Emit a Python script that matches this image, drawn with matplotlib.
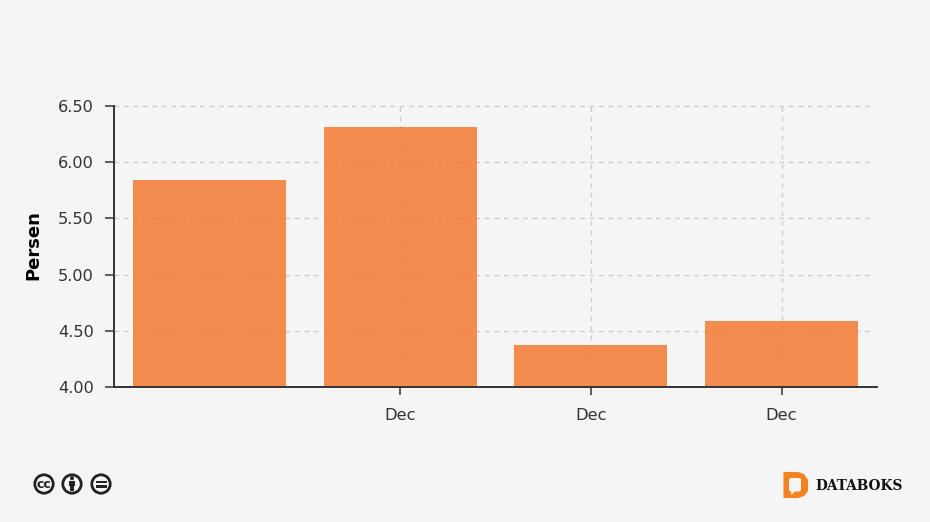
import matplotlib
matplotlib.use("Agg")
import matplotlib.pyplot as plt
from matplotlib.patches import Circle, Polygon, Rectangle, FancyBboxPatch

BG = "#f5f5f5"
DARK = "#333333"
GRID = "#cccccc"

categories = ["", "Dec", "Dec", "Dec"]
values = [5.84, 6.31, 4.37, 4.59]
y_ticks = [4.0, 4.5, 5.0, 5.5, 6.0, 6.5]

fig = plt.figure(figsize=(9.3, 5.22), dpi=100, facecolor=BG)
ax = fig.add_axes([114 / 930, 1 - 387 / 522, 763 / 930, 281 / 522], facecolor=BG)

positions = list(range(len(values)))
ax.bar(positions, values, width=0.803, color="#f47a33", alpha=0.85, zorder=2)

labelled = [p for p, c in zip(positions, categories) if c]
ax.set_xticks(labelled)
ax.set_xticklabels([c for c in categories if c])
ax.set_yticks(y_ticks)
ax.set_yticklabels(["%.2f" % t for t in y_ticks])
ax.set_xlim(-0.5, 3.5)
ax.set_ylim(4.0, 6.5)

dash = (0, (3.6, 3.6))
ax.vlines(labelled, 4.0, 6.5, color=GRID, linestyle=dash, linewidth=0.95, zorder=1)
ax.hlines(y_ticks[1:], -0.5, 3.49, color=GRID, linestyle=dash, linewidth=0.95, zorder=1, clip_on=False)

for side in ["top", "right"]:
    ax.spines[side].set_visible(False)
for side in ["left", "bottom"]:
    ax.spines[side].set_linewidth(1.4)
    ax.spines[side].set_color(DARK)

ax.tick_params(axis="y", length=6.5, width=1.1, color=DARK, labelcolor=DARK, labelsize=11.6, pad=8)
ax.tick_params(axis="x", length=5.5, width=1.1, color=DARK, labelcolor=DARK, labelsize=11.8, pad=9.5)
ax.set_ylabel("Persen", fontsize=13, fontweight="bold", color="black", labelpad=11, y=0.505)

# footer logos, drawn in pixel coordinates
logo = fig.add_axes([0, 0, 1, 1], facecolor="none")
logo.set_xlim(0, 930)
logo.set_ylim(522, 0)
logo.axis("off")

ICON = "#222222"
for cx in [44, 72, 101]:
    logo.add_patch(Circle((cx, 484), 9.2, fc="none", ec=ICON, lw=2.0))
logo.text(44, 484, "cc", fontsize=9, fontweight="bold", color=ICON, ha="center", va="center")
logo.add_patch(Circle((72, 478.2), 2.0, fc=ICON, ec="none"))
logo.add_patch(Rectangle((69, 480.5), 6, 5.5, fc=ICON, ec="none"))
logo.add_patch(Rectangle((70.2, 485), 3.6, 6, fc=ICON, ec="none"))
logo.add_patch(Rectangle((95.5, 480.5), 11, 2.6, fc=ICON, ec="none"))
logo.add_patch(Rectangle((95.5, 485.2), 11, 2.6, fc=ICON, ec="none"))

ORANGE = "#f58220"
logo.add_patch(Polygon([(783.5, 472), (798, 472), (804, 474), (808, 480), (808, 491),
                        (804, 496), (798, 498), (783.5, 498)], fc=ORANGE, ec="none"))
logo.add_patch(FancyBboxPatch((789, 478), 12, 13.5, boxstyle="round,pad=0,rounding_size=2", fc=BG, ec="none"))
logo.add_patch(Polygon([(791, 490), (796, 490), (791.5, 495)], fc=BG, ec="none"))
logo.text(815, 486, "DATABOKS", fontsize=9.9, fontweight="bold", family="DejaVu Serif",
          color="#111111", ha="left", va="center")

fig.savefig("out.png", dpi=100, facecolor=BG)
